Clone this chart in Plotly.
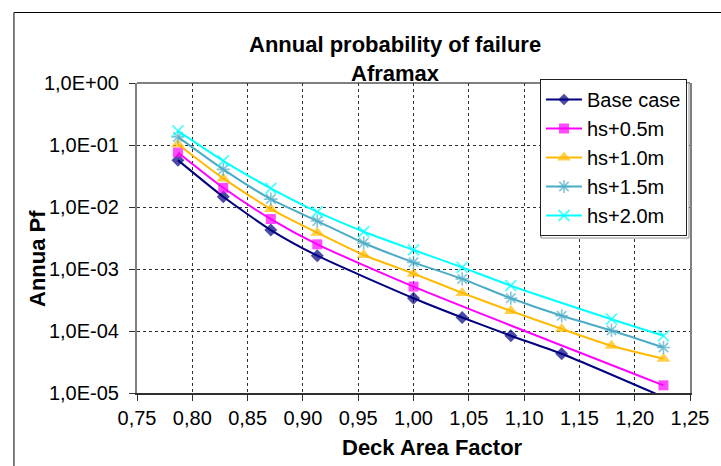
import plotly.graph_objects as go

# ---- data ----
x_all = [0.787, 0.828, 0.871, 0.913, 0.955, 1.000, 1.044, 1.088, 1.134, 1.179, 1.226]

base_x = [0.787, 0.828, 0.871, 0.913, 1.000, 1.044, 1.088, 1.134, 1.226]
base_y = [0.0570, 0.0146, 0.00425, 0.00164, 0.000338, 0.000165, 8.4e-5, 4.3e-5, 8.6e-6]

hs05_x = [0.787, 0.828, 0.871, 0.913, 1.000, 1.226]
hs05_y = [0.0758, 0.0204, 0.00640, 0.00250, 0.000520, 1.33e-5]

hs10_x = x_all
hs10_y = [0.103, 0.0289, 0.00927, 0.00385, 0.00168, 0.000842, 0.000412, 0.000211, 0.000108, 5.77e-5, 3.57e-5]

hs15_x = x_all
hs15_y = [0.135, 0.0404, 0.0134, 0.00594, 0.00263, 0.00128, 0.000692, 0.000338, 0.000176, 0.000102, 5.42e-5]

hs20_x = [0.787, 0.828, 0.871, 0.913, 0.955, 1.000, 1.044, 1.088, 1.179, 1.226]
hs20_y = [0.169, 0.0555, 0.0200, 0.00832, 0.00399, 0.00203, 0.00106, 0.000538, 0.000155, 8.36e-5]

series_names = ["Base case", "hs+0.5m", "hs+1.0m", "hs+1.5m", "hs+2.0m"]

y_tickvals = [1, 0.1, 0.01, 0.001, 0.0001, 0.00001]
y_ticktext = ["1,0E+00", "1,0E-01", "1,0E-02", "1,0E-03", "1,0E-04", "1,0E-05"]

title_text = "Annual probability of failure<br>Aframax"
x_title = "Deck Area Factor"
y_title = "Annua Pf"

# ---- geometry ----
W, H = 721, 466
ML, MR, MT, MB = 137, 20, 83, 73
PW, PH = W - ML - MR, H - MT - MB


def px2x(px):
    return (px - ML) / PW


def py2y(py):
    return (H - MB - py) / PH


FONT = "Liberation Sans, Arial, sans-serif"
YMIN = 1e-5

styles = [
    dict(color="#000080", symbol="diamond", size=10, lw=0),
    dict(color="#FF00FF", symbol="square", size=10, lw=0),
    dict(color="#FFBA00", symbol="triangle-up", size=12, lw=0),
    dict(color="#4BACC6", symbol="asterisk-open", size=11, lw=1.6),
    dict(color="#00FFFF", symbol="x-thin-open", size=11, lw=1.8),
]
data = [(base_x, base_y), (hs05_x, hs05_y), (hs10_x, hs10_y), (hs15_x, hs15_y), (hs20_x, hs20_y)]

fig = go.Figure()
for name, (xs, ys), st in zip(series_names, data, styles):
    sizes = [st["size"] if v >= YMIN else 0 for v in ys]
    fig.add_trace(go.Scatter(
        x=xs, y=ys, name=name, mode="lines+markers",
        line=dict(color=st["color"], width=2, shape="spline", smoothing=0.6),
        marker=dict(symbol=st["symbol"], size=sizes, color=st["color"],
                    line=dict(color=st["color"], width=st["lw"])),
    ))

fig.update_layout(
    width=W, height=H,
    margin=dict(l=ML, r=MR, t=MT, b=MB, pad=0),
    paper_bgcolor="white", plot_bgcolor="white",
    separators=",.",
    font=dict(family=FONT, size=20, color="#000"),
    showlegend=True,
    legend=dict(
        x=px2x(548), y=py2y(79), xanchor="left", yanchor="top",
        bgcolor="white", bordercolor="#202020", borderwidth=1,
        font=dict(family=FONT, size=20, color="#000"),
        itemwidth=36, tracegroupgap=0,
    ),
)

fig.update_xaxes(
    range=[0.75, 1.25], dtick=0.05, tick0=0.75, tickformat=".2f",
    showgrid=True, gridcolor="#303030", griddash="dot", gridwidth=1,
    showline=True, linecolor="#303030", linewidth=1.5,
    ticks="outside", ticklen=6, tickcolor="#303030", tickwidth=1,
    tickfont=dict(family=FONT, size=20, color="#000"),
    zeroline=False,
)
fig.update_yaxes(
    type="log", range=[-5, 0],
    tickvals=y_tickvals, ticktext=y_ticktext,
    showgrid=True, gridcolor="#303030", griddash="dot", gridwidth=1,
    showline=True, linecolor="#808080", linewidth=2, mirror=True,
    ticks="outside", ticklen=6, tickcolor="#303030", tickwidth=1,
    tickfont=dict(family=FONT, size=20, color="#000"),
    ticklabelstandoff=6,
    zeroline=False,
)

# plot area top border (gray)
fig.add_shape(type="line", xref="paper", yref="paper", x0=0, x1=1, y0=1, y1=1,
              line=dict(color="#808080", width=2), layer="between")
# outer chart frame
fig.add_shape(type="rect", xref="paper", yref="paper",
              x0=px2x(11.5), x1=px2x(760), y0=py2y(12.5), y1=py2y(520),
              line=dict(color="#000", width=1), fillcolor="rgba(0,0,0,0)", layer="above")
# legend shadow
fig.add_shape(type="rect", xref="paper", yref="paper",
              x0=px2x(549), x1=px2x(700), y0=py2y(83), y1=py2y(238),
              line=dict(color="#909090", width=1), fillcolor="white", layer="above")

# titles
fig.add_annotation(text="<b>" + title_text.replace("<br>", "</b><br><b>") + "</b>",
                   xref="paper", yref="paper", x=px2x(400), y=py2y(30),
                   xanchor="center", yanchor="top", showarrow=False,
                   font=dict(family=FONT, size=22, color="#000"))
fig.add_annotation(text="<b>" + x_title + "</b>", xref="paper", yref="paper",
                   x=px2x(438), y=py2y(447), xanchor="center", yanchor="middle",
                   showarrow=False, font=dict(family=FONT, size=22, color="#000"))
fig.add_annotation(text="<b>" + y_title + "</b>", xref="paper", yref="paper",
                   x=px2x(35), y=py2y(258), xanchor="center", yanchor="middle",
                   textangle=-90, showarrow=False,
                   font=dict(family=FONT, size=22, color="#000"))

fig.write_html("out.html")
